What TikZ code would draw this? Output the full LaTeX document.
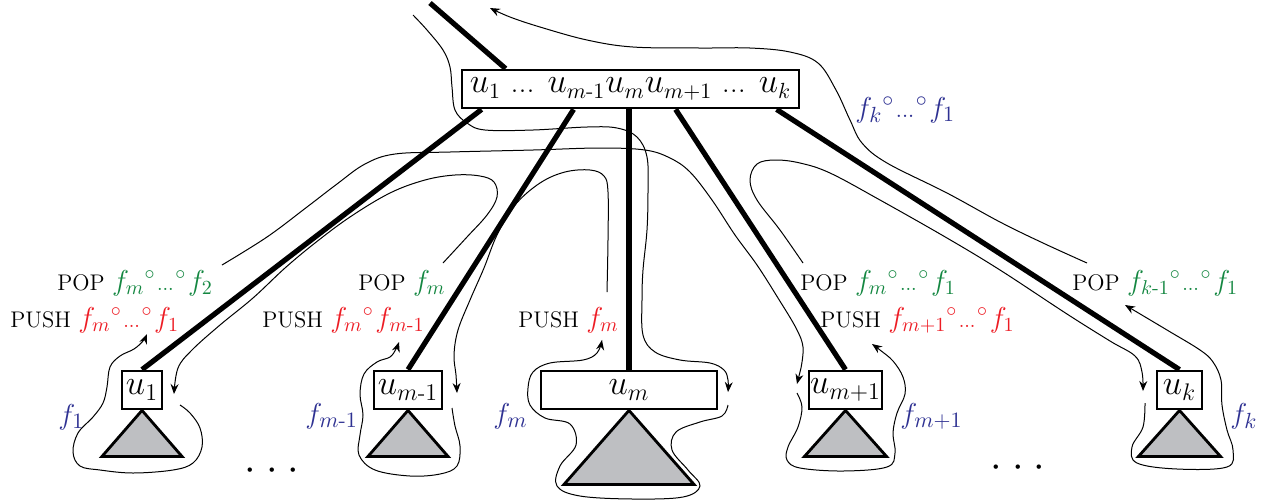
\documentclass[tikz,border=0pt]{standalone}
\usepackage{amsmath}
\usetikzlibrary{arrows.meta,calc}
\definecolor{popg}{RGB}{20,135,65}
\definecolor{pushr}{RGB}{237,28,36}
\definecolor{fblue}{RGB}{46,49,146}
\definecolor{trigray}{RGB}{190,191,194}
\newcommand{\cmpo}{{}^{\circ}\mkern1mu}
\newcommand{\mydots}{{\scriptstyle\ldots}\mkern1mu}
\newcommand{\hy}{\text{-}}
\newcommand{\popm}[1]{{\color{popg}\fontsize{14.5}{16}\selectfont$#1$}}
\newcommand{\pushm}[1]{{\color{pushr}\fontsize{14.5}{16}\selectfont$#1$}}
\begin{document}
\begin{tikzpicture}[x=0.5pt,y=-0.5pt,
  edge/.style={line width=2.6pt},
  flow/.style={line width=0.5pt},
  flowarr/.style={line width=0.5pt,-{Stealth[length=5pt,width=4pt]}},
  vbox/.style={draw,line width=1.4pt,inner sep=0pt,minimum height=19pt,font=\fontsize{16.5}{19}\selectfont},
  tri/.style={draw,line width=1.4pt,fill=trigray},
  lab/.style={inner sep=0pt,anchor=base west,font=\fontsize{11.3}{13}\selectfont},
  flab/.style={inner sep=0pt,anchor=base west,text=fblue,font=\fontsize{15.5}{17}\selectfont},
  dotsl/.style={inner sep=0pt,anchor=base,font=\fontsize{20}{22}\selectfont}
]
\useasboundingbox (0,0) rectangle (1270,500);

% boxes
\node[vbox,minimum width=168.5pt,font=\fontsize{16}{19}\selectfont] (top) at (630.5,89) {$u_1$ ... $u_{m\hy1}u_mu_{m+1}$ ... $u_k$};
\node[vbox,minimum width=20pt] (u1) at (142,390) {$u_1$};
\node[vbox,minimum width=34pt] (um1) at (408,390) {$u_{m\hy1}$};
\node[vbox,minimum width=88pt] (um) at (629,390) {$u_m$};
\node[vbox,minimum width=36.5pt] (up1) at (845.5,390) {$u_{m+1}$};
\node[vbox,minimum width=22.5pt] (uk) at (1179.5,390) {$u_k$};

% subtrees
\draw[tri] (u1.south) -- ++(-40,46) -- ++(80,0) -- cycle;
\draw[tri] (um1.south) -- ++(-40,46) -- ++(80,0) -- cycle;
\draw[tri] (um.south) -- ++(-65,74) -- ++(130,0) -- cycle;
\draw[tri] (up1.south) -- ++(-41,46) -- ++(82,0) -- cycle;
\draw[tri] (uk.south) -- ++(-41,46) -- ++(82,0) -- cycle;

% tree edges
\coordinate (par) at (430,3);
\draw[edge] (par) -- ($(top.north west)+(45,0)$);
\draw[edge] ($(top.south west)+(21,0)$) -- (u1.north);
\draw[edge] ($(top.south west)+(113,0)$) -- (um1.north);
\draw[edge] (top.south -| um.north) -- (um.north);
\draw[edge] ($(top.south west)+(215,0)$) -- (up1.north);
\draw[edge] ($(top.south west)+(316,0)$) -- (uk.north);

% flow curves
\draw[flowarr] plot[smooth,tension=0.6] coordinates {(413,15) (427,30) (443,50) (450,67) (452,87) (455,110) (467,123) (485,130) (533,130) (587,127) (617,128) (637,137) (647,157) (648,190) (647,230) (643,270) (642,300) (643,335) (655,352) (680,360) (710,363) (724,370) (728,380) (728,392)};
\draw[flowarr] plot[smooth,tension=0.6] coordinates {(728,405) (722,416) (700,422) (676,432) (672,450) (688,470) (700,486) (683,497) (633,499) (580,496) (557,486) (560,466) (576,445) (570,424) (545,418) (530,405) (528,388) (533,372) (550,363) (583,360) (597,353) (602,340)};
\draw[flowarr] plot[smooth,tension=0.6] coordinates {(607,292) (608,240) (608,192) (604,176) (590,170) (565,172) (540,183) (515,205) (497,235) (484,268) (470,300) (458,330) (454,355) (456,375) (457,393)};
\draw[flowarr] plot[smooth,tension=0.6] coordinates {(452,408) (455,426) (460,446) (457,466) (440,474) (410,476) (375,470) (359,455) (360,435) (363,415) (360,394) (364,374) (377,362) (390,357) (396,349) (399,342)};
\draw[flowarr] plot[smooth,tension=0.6] coordinates {(443,263) (467,237) (487,215) (497,197) (494,182) (480,176) (455,175) (425,180) (390,193) (350,217) (315,243) (285,268) (253,298) (220,325) (192,350) (178,368) (174,394)};
\draw[flowarr] plot[smooth,tension=0.6] coordinates {(180,405) (190,413) (200,428) (202,447) (193,463) (173,470) (133,473) (100,470) (80,466) (73,452) (78,433) (93,417) (103,403) (107,387) (110,367) (120,356) (134,349) (143,341) (147,334)};
\draw[flow] plot[smooth,tension=0.6] coordinates {(222,265) (267,237) (307,207) (337,184) (365,164) (395,154) (450,152) (533,150) (600,148) (645,150) (670,158) (690,172) (712,200) (735,235) (757,265) (778,298) (796,328) (803,347) (801,368)};
\draw[flowarr] (801,368) -- (797,384);
\draw[flowarr] plot[smooth,tension=0.6] coordinates {(797,393) (802,407) (798,427) (788,447) (787,460) (800,468) (843,471) (887,467) (895,453) (893,433) (897,413) (905,394) (903,377) (893,361) (880,350) (872,344)};
\draw[flowarr] plot[smooth,tension=0.6] coordinates {(803,263) (780,230) (757,200) (750,180) (757,164) (775,160) (800,163) (830,173) (880,200) (947,238) (1000,270) (1067,314) (1110,341) (1135,356) (1142,372) (1143,391)};
\draw[flowarr] plot[smooth,tension=0.6] coordinates {(1145,403) (1143,427) (1132,447) (1137,463) (1177,469) (1227,467) (1233,450) (1227,430) (1222,405) (1221,380) (1213,362) (1200,350) (1167,330) (1125,305)};
\draw[flowarr] plot[smooth,tension=0.6] coordinates {(1087,263) (1043,243) (1000,222) (947,193) (887,163) (862,143) (850,120) (836,90) (818,63) (790,52) (750,48) (700,48) (633,47) (587,40) (540,27) (510,17) (490,8)};

% labels
\node[lab] (pop1) at (57,290) {POP \popm{f_m\cmpo\mydots\cmpo f_2}};
\node[lab] (push1) at (10,327) {PUSH \pushm{f_m\cmpo\mydots\cmpo f_1}};
\node[lab] (pop2) at (358,290) {POP \popm{f_m}};
\node[lab] (push2) at (262,327) {PUSH \pushm{f_m\cmpo f_{m\hy1}}};
\node[lab] (push3) at (518,327) {PUSH \pushm{f_m}};
\node[lab] (pop4) at (800,290) {POP \popm{f_m\cmpo\mydots\cmpo f_1}};
\node[lab] (push4) at (820,327) {PUSH \pushm{f_{m+1}\cmpo\mydots\cmpo f_1}};
\node[lab] (pop5) at (1072,290) {POP \popm{f_{k\hy1}\cmpo\mydots\cmpo f_1}};

\node[flab] (f1) at (58,424) {$f_1$};
\node[flab] (fm1) at (305,423) {$f_{m\hy1}$};
\node[flab] (fm) at (493,423) {$f_m$};
\node[flab] (fp1) at (900,423) {$f_{m+1}$};
\node[flab] (fk) at (1230,423) {$f_k$};
\node[flab] (fall) at (855,117) {$f_k\cmpo\mydots\cmpo f_1$};

\node[dotsl] (dl) at (272,480) {$\cdot$\hspace{5pt}$\cdot$\hspace{5pt}$\cdot$};
\node[dotsl] (dr) at (1018,477) {$\cdot$\hspace{5pt}$\cdot$\hspace{5pt}$\cdot$};
\end{tikzpicture}
\end{document}
